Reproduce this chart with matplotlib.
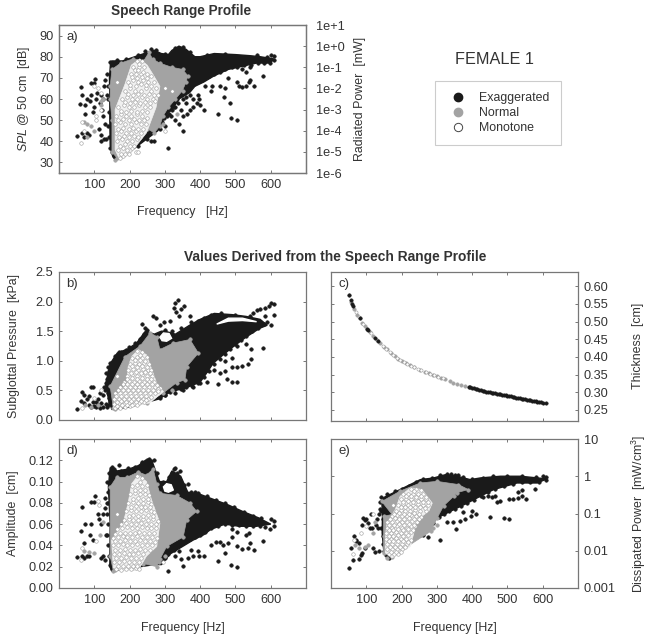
import matplotlib
matplotlib.use('Agg')
import matplotlib.pyplot as plt
from matplotlib.lines import Line2D

plt.rcParams['font.family'] = ['Liberation Sans', 'DejaVu Sans']
plt.rcParams['mathtext.fontset'] = 'custom'
plt.rcParams['mathtext.rm'] = 'Liberation Sans'
plt.rcParams['mathtext.it'] = 'Liberation Sans:italic'

## Data: dense masses as outlines, loose points one by one
xticks = [100, 200, 300, 400, 500, 600]

# panel a: frequency, SPL
a_black_area = [(146, 77), (150, 78), (180, 78), (215, 80), (250, 82), (270, 83), (290, 81.5), (310, 81),
                (320, 83), (340, 85), (360, 83.5), (385, 80), (400, 80), (440, 81.5), (500, 81), (540, 80.5),
                (570, 80), (608, 79), (600, 77), (560, 77), (520, 75.5), (480, 74), (440, 71), (410, 68),
                (385, 66), (370, 63), (340, 60), (320, 55), (300, 52), (290, 48), (280, 45), (240, 40),
                (200, 35), (160, 31), (152, 33), (145, 38), (144, 50), (144, 60), (143, 70)]
a_gray_area = [(145, 66), (150, 74), (175, 77), (210, 79), (240, 78), (255, 82), (265, 79), (285, 77), (320, 75),
               (350, 74), (365, 71), (360, 68), (350, 64), (330, 60), (310, 56), (295, 52), (285, 47), (270, 44),
               (250, 46), (230, 42), (200, 36), (165, 32), (150, 35), (150, 50), (145, 60)]
a_white_area = [(229, 79), (250, 76), (265, 72), (286, 66), (275, 56), (248, 44), (210, 36), (173, 31), (159, 36),
                (159, 55), (187, 67), (205, 76)]
a_edge = [(300, 53), (310, 55), (322, 58), (333, 60), (345, 62), (357, 64), (370, 66), (382, 67), (395, 69), (410, 70),
          (425, 71), (440, 72), (455, 73), (470, 74), (490, 75), (505, 75), (525, 76), (545, 76), (565, 77), (580, 77),
          (145, 77.5), (165, 78.5), (190, 79), (225, 81), (245, 82.5), (262, 83.5), (275, 83), (300, 81.5), (330, 84),
          (350, 84.5), (370, 82), (420, 81), (470, 81.5), (560, 81), (590, 80), (138, 66), (140, 60), (143, 54),
          (140, 47), (143, 42), (145, 37), (150, 35), (155, 33), (285, 46), (292, 49), (298, 51), (305, 52), (312, 53),
          (320, 55), (328, 56), (338, 58), (350, 60), (360, 61), (372, 62)]
a_exag = [(52, 42.5), (60, 57.5), (62, 65.5), (64, 62), (72, 42), (74, 57), (78, 60), (80, 44), (85, 43), (88, 59),
          (90, 62), (92, 67.5), (98, 67.5), (98, 56), (103, 69.5), (108, 63), (112, 46), (118, 62), (118, 43),
          (125, 60), (128, 66), (130, 69), (125, 52), (130, 48), (132, 41), (128, 41), (120, 40), (135, 72),
          (135, 62), (65, 44), (75, 53), (95, 54), (105, 60), (115, 58), (122, 55),
          (310, 37), (352, 45), (262, 40), (270, 40), (248, 41), (235, 44), (225, 38), (300, 47), (318, 52),
          (330, 50), (340, 48), (350, 52), (362, 53), (372, 55), (380, 56), (390, 58), (398, 60), (410, 55),
          (400, 57), (380, 60), (450, 53), (487, 51), (505, 50), (486, 58), (468, 61), (470, 65), (430, 64),
          (435, 66), (455, 66), (478, 70), (505, 68), (510, 66), (520, 65.5), (530, 66), (538, 68), (542, 69),
          (552, 66), (578, 71), (530, 73), (540, 75), (520, 74), (325, 56), (305, 55), (345, 55), (360, 58),
          (395, 62), (415, 66), (600, 81), (608, 80.5), (610, 78.5), (598, 77), (585, 78)]
a_norm = [(70, 49), (78, 48), (90, 47), (100, 45), (80, 42), (118, 59), (125, 60), (160, 31), (275, 49), (295, 48),
          (335, 53), (120, 57)]
a_mono = [(222, 78), (236, 78), (211, 75), (226, 75), (241, 75), (203, 72), (217, 72), (232, 72), (248, 72),
          (262, 71), (195, 68), (210, 69), (224, 68), (239, 69), (253, 68), (268, 68), (188, 64), (202, 65),
          (216, 64), (231, 64), (246, 65), (260, 64), (276, 65), (178, 60), (192, 61), (207, 60), (222, 60),
          (236, 61), (250, 60), (266, 60), (280, 62), (168, 56), (183, 57), (198, 56), (213, 56), (228, 57),
          (243, 56), (258, 56), (162, 52), (176, 53), (190, 52), (205, 52), (220, 53), (235, 52), (250, 51),
          (160, 48), (174, 49), (188, 48), (203, 48), (218, 49), (232, 48), (246, 48), (162, 44), (176, 45),
          (190, 44), (204, 44), (218, 45), (232, 44), (165, 40), (178, 41), (192, 40), (206, 40), (220, 41),
          (168, 36), (180, 37), (193, 36), (206, 37), (172, 32), (180, 33),
          (62, 39), (65, 49), (72, 45), (100, 66), (110, 65), (118, 63), (105, 50), (218, 35), (225, 35),
          (300, 45), (105, 52), (120, 55), (165, 68), (300, 65), (320, 64),
          (228, 76.5), (214, 73.5), (224, 73.5), (238, 73), (208, 70.5), (222, 70), (236, 70.5), (250, 70), (202, 66.5),
          (217, 66), (232, 67), (246, 66.5), (262, 66), (195, 62.5), (210, 62), (224, 62.5), (240, 62), (254, 62.5),
          (270, 62), (186, 58.5), (200, 58), (215, 58.5), (230, 58), (245, 58.5), (258, 58), (272, 59), (175, 54.5),
          (190, 54), (205, 54.5), (220, 54), (236, 54.5), (250, 54), (168, 50), (182, 50.5), (197, 50), (212, 50.5),
          (226, 50), (240, 50), (168, 46), (182, 46.5), (197, 46), (211, 46.5), (225, 46), (239, 46), (170, 42),
          (184, 42.5), (198, 42), (212, 42.5), (225, 42), (172, 38), (186, 38.5), (200, 38), (213, 38), (176, 34),
          (186, 34), (198, 34)]

# panel b: frequency, subglottal pressure
b_black_area = [(132, 0.6), (145, 0.95), (165, 1.13), (195, 1.2), (220, 1.3), (245, 1.5), (270, 1.45),
                (290, 1.5), (300, 1.5), (330, 1.45), (370, 1.6), (400, 1.7), (440, 1.8), (490, 1.78), (530, 1.75),
                (570, 1.7), (590, 1.6), (569, 1.55), (530, 1.4), (494, 1.24), (465, 1.1), (437, .96), (418, .79),
                (400, .64), (371, .57), (350, .52), (324, .5), (300, .42), (286, .36), (250, 0.3), (200, 0.22),
                (150, 0.18), (142, 0.3)]
b_gray_area = [(145, 0.57), (187, 1.07), (230, 1.25), (258, 1.47), (277, 1.41), (286, 1.19), (324, 1.3), (371, 1.36),
               (395, 1.13), (362, 0.9), (357, 0.68), (333, 0.63), (296, 0.46), (248, 0.29), (154, 0.2)]
b_white_area = [(225, 1.19), (248, 1.1), (277, 0.62), (296, 0.48), (258, 0.29), (210, 0.23), (154, 0.2), (159, 0.4),
                (192, 0.62), (196, 0.9), (206, 1.07)]
b_hole = [(286, 1.4), (296, 1.47), (312, 1.46), (319, 1.38), (305, 1.33), (292, 1.34)]
b_sliver = [(447, 1.62), (480, 1.72), (520, 1.72), (560, 1.66), (520, 1.68), (480, 1.67)]
b_edge = [(286, .38), (300, .42), (315, .47), (330, .52), (345, .52), (360, .55), (378, .58), (395, .62), (410, .72),
          (425, .82), (440, .95), (455, 1.03), (470, 1.12), (485, 1.2), (500, 1.28), (515, 1.35), (530, 1.42),
          (548, 1.5), (565, 1.56), (580, 1.62), (145, .97), (158, 1.08), (175, 1.15), (198, 1.23), (215, 1.3),
          (230, 1.37), (240, 1.45), (250, 1.52), (300, 1.52), (320, 1.5), (345, 1.55), (375, 1.65), (410, 1.73),
          (430, 1.78), (460, 1.8), (500, 1.78), (540, 1.76), (132, .62), (137, .7), (142, .82), (128, .56), (138, .45),
          (142, .38), (145, .3), (140, .25), (135, .22), (120, .28), (110, .26), (100, .24), (92, .22)]
b_exag = [(52, .18), (62, .32), (64, .48), (70, .42), (72, .28), (80, .35), (85, .4), (90, .55), (97, .56), (85, .25),
          (95, .3), (105, .3), (110, .35), (115, .45), (125, .42), (130, .5), (105, .22), (115, .2), (125, .22),
          (132, .27), (132, .8), (138, .9), (150, .97), (170, 1.15), (190, 1.18), (235, 1.62), (243, 1.55),
          (265, 1.75), (275, 1.72), (285, 1.6), (298, 1.65), (315, 1.68), (325, 1.9), (332, 1.83), (338, 2.02),
          (330, 1.98), (345, 1.87), (355, 1.92), (340, 1.75), (370, 1.75), (395, 1.68), (405, 1.65), (450, .6),
          (475, .7), (490, .65), (505, .65), (470, .82), (455, .8), (490, .9), (505, .9), (520, .92), (535, .95),
          (545, 1.03), (578, 1.22), (545, 1.2), (530, 1.28), (505, 1.25), (420, .65), (400, .62), (380, .55),
          (350, .5), (330, .45), (300, .42), (420, .85), (440, .85), (470, 1.0), (490, 1.05), (585, 1.9),
          (595, 1.92), (600, 1.97), (608, 1.96), (610, 1.78), (600, 1.6), (590, 1.65), (585, 1.75), (560, 1.85),
          (570, 1.88), (550, 1.8)]
b_norm = [(75, .25), (90, .22), (110, .25), (160, .18), (300, .62), (320, .5)]
b_mono = [(222, 1.17), (236, 1.15), (208, 1.05), (222, 1.07), (236, 1.05), (250, 1.06), (200, .95), (214, .97),
          (228, .95), (242, .96), (255, .95), (196, .85), (210, .86), (224, .85), (238, .86), (252, .85), (262, .84),
          (193, .75), (207, .76), (221, .75), (235, .76), (249, .75), (263, .74), (185, .65), (199, .66), (213, .65),
          (227, .66), (241, .65), (255, .66), (270, .64), (172, .55), (186, .56), (200, .55), (214, .56), (228, .55),
          (242, .56), (256, .55), (272, .56), (286, .54), (160, .45), (174, .46), (188, .45), (202, .46), (216, .45),
          (230, .46), (244, .45), (258, .46), (272, .45), (155, .36), (169, .35), (183, .36), (197, .35), (211, .36),
          (225, .35), (239, .36), (253, .35), (156, .27), (170, .28), (184, .27), (198, .28), (212, .27), (226, .28),
          (240, .3), (158, .21), (172, .21), (186, .22), (200, .23), (65, .2), (100, .38), (118, .5), (165, .75),
          (280, .52),
          (229, 1.1), (215, 1.01), (229, 1.01), (243, 1.0), (207, .91), (221, .9), (235, .91), (249, .9), (203, .8),
          (217, .81), (231, .8), (245, .81), (258, .8), (192, .7), (206, .71), (220, .7), (234, .71), (248, .7),
          (262, .7), (180, .6), (194, .61), (208, .6), (222, .61), (236, .6), (250, .61), (264, .6), (278, .59),
          (167, .5), (181, .51), (195, .5), (209, .51), (223, .5), (237, .5), (251, .51), (265, .5), (280, .49),
          (162, .4), (176, .41), (190, .4), (204, .41), (218, .4), (232, .41), (246, .4), (260, .39), (163, .31),
          (177, .32), (191, .31), (205, .32), (219, .31), (233, .32), (247, .33), (165, .24), (179, .25), (193, .25),
          (207, .25), (221, .26)]

# panel c: frequency, thickness
c_norm = [(52, .575), (58, .555), (66, .535), (74, .518), (81, .509), (88, .497), (95, .487), (102, .48), (110, .47),
          (118, .46), (130, .448), (140, .438), (150, .428), (158, .421), (170, .411), (180, .403), (190, .395),
          (200, .388), (212, .382), (224, .376), (236, .37), (253, .363), (265, .358), (278, .353), (290, .349),
          (300, .346), (312, .341), (324, .336), (336, .331), (347, .327), (358, .324), (369, .321), (380, .318),
          (390, .316)]
c_exag = [(52, .575), (56, .56), (60, .55), (62, .545), (81, .509), (102, .48), (106, .475), (125, .453), (134, .444),
          (390, .316), (395, .314), (400, .313), (405, .311), (410, .31), (415, .308), (420, .307), (425, .305),
          (430, .304), (435, .303), (440, .302), (445, .301), (450, .3), (455, .299), (460, .298), (465, .297),
          (470, .296), (475, .295), (480, .294), (485, .293), (490, .292), (495, .291), (500, .29), (505, .289),
          (510, .288), (515, .287), (520, .286), (525, .285), (530, .284), (535, .283), (540, .282), (545, .281),
          (550, .28), (555, .279), (560, .278), (565, .277), (570, .276), (575, .275), (580, .274), (585, .273),
          (590, .272), (595, .271), (600, .27), (608, .269)]
c_mono = [(70, .527), (78, .513), (92, .492), (112, .468), (146, .432), (156, .423), (166, .414), (176, .406),
          (186, .398), (196, .391), (206, .385), (216, .38), (226, .375), (236, .37), (246, .366), (256, .362),
          (268, .357), (280, .352), (292, .348), (304, .344), (316, .339)]

# panel d: frequency, amplitude
d_black_area = [(140, .095), (145, .113), (165, .11), (200, .112), (225, .115), (245, .12), (265, .118), (285, .1),
                (305, .1), (320, .11), (345, .105), (365, .09), (400, .088), (440, .083), (480, .078), (520, .072),
                (565, .066), (600, .06), (560, .058), (510, .058), (470, .06), (430, .055), (410, .05), (380, .045),
                (345, .038), (315, .032), (290, .022), (270, .022), (150, .016), (144, .02), (145, .06)]
d_gray_area = [(145, .095), (163, .104), (192, .104), (225, .109), (248, .106), (267, .112), (277, .098), (286, .089),
               (333, .087), (371, .08), (390, .072), (362, .064), (352, .048), (305, .039), (286, .027), (277, .02),
               (239, .023), (210, .019), (154, .016), (145, .03)]
d_white_area = [(225, .106), (248, .1), (262, .083), (286, .061), (277, .039), (248, .03), (225, .017), (177, .016),
                (154, .019), (149, .045), (182, .061), (196, .08), (206, .098)]
d_hole = [(296, .095), (305, .098), (318, .097), (324, .092), (310, .09), (300, .091)]
d_edge = [(290, .024), (300, .028), (310, .032), (325, .036), (340, .04), (355, .043), (370, .046), (385, .048), (400, .05),
          (415, .053), (430, .056), (450, .058), (470, .06), (490, .059), (510, .059), (530, .058), (550, .058), (570, .058),
          (143, .108), (155, .112), (175, .11), (195, .113), (215, .114), (235, .118), (250, .12), (262, .119), (278, .108),
          (295, .1), (312, .104), (325, .112), (335, .108), (355, .097), (375, .09), (395, .089), (420, .086), (445, .083),
          (470, .08), (495, .076), (525, .071), (550, .068), (136, .1), (138, .09), (140, .08), (137, .07), (140, .06),
          (137, .05), (140, .04), (142, .03), (145, .022), (150, .018)]
d_exag = [(52, .029), (62, .054), (64, .076), (66, .03), (72, .042), (72, .028), (80, .03), (75, .06), (85, .03),
          (88, .05), (90, .06), (92, .081), (98, .081), (103, .086), (95, .045), (110, .07), (113, .065), (120, .06),
          (125, .07), (125, .03), (130, .026), (118, .028), (130, .085), (135, .08), (130, .075), (132, .05),
          (310, .016), (352, .021), (330, .03), (345, .027), (365, .028), (380, .03), (398, .03), (410, .03),
          (395, .035), (375, .036), (340, .035), (450, .025), (487, .022), (505, .02), (470, .033), (465, .04),
          (430, .04), (445, .043), (455, .043), (478, .042), (490, .048), (505, .039), (520, .037), (535, .038),
          (542, .042), (552, .036), (578, .044), (530, .05), (538, .052), (490, .055), (505, .053), (600, .065),
          (608, .063), (610, .058), (598, .055), (585, .057), (572, .066), (150, .114), (170, .116), (235, .117),
          (255, .121), (268, .12), (330, .113), (342, .11), (320, .108), (365, .098), (385, .09)]
d_norm = [(70, .035), (85, .034), (100, .033), (115, .05), (125, .062), (160, .017), (282, .024), (300, .03)]
d_mono = [(222, .105), (235, .103), (208, .096), (222, .097), (236, .096), (248, .097), (202, .088), (216, .089),
          (230, .088), (244, .088), (254, .087), (196, .08), (210, .081), (224, .08), (238, .08), (252, .081),
          (262, .079), (190, .072), (204, .073), (218, .072), (232, .072), (246, .073), (260, .072), (270, .071),
          (183, .064), (197, .065), (211, .064), (225, .064), (239, .065), (253, .064), (267, .065), (280, .063),
          (164, .055), (178, .056), (192, .057), (206, .056), (220, .056), (234, .057), (248, .056), (262, .056),
          (276, .056), (152, .047), (166, .048), (180, .049), (194, .048), (208, .048), (222, .049), (236, .048),
          (250, .048), (264, .048), (278, .047), (152, .04), (166, .04), (180, .041), (194, .04), (208, .04),
          (222, .041), (236, .04), (250, .04), (264, .04), (155, .032), (169, .032), (183, .033), (197, .032),
          (211, .032), (225, .033), (239, .032), (157, .024), (171, .024), (185, .025), (199, .024), (213, .024),
          (227, .024), (162, .018), (176, .017), (190, .018), (204, .018), (218, .019),
          (62, .026), (66, .038), (105, .044), (112, .078), (110, .082), (228, .018), (295, .024), (165, .07),
          (229, .1), (215, .092), (229, .092), (243, .092), (209, .084), (223, .085), (237, .084), (251, .084), (203, .076),
          (217, .077), (231, .076), (245, .076), (258, .076), (197, .068), (211, .069), (225, .068), (239, .068), (253, .069),
          (266, .068), (176, .06), (190, .061), (204, .06), (218, .06), (232, .061), (246, .06), (260, .06), (274, .06),
          (158, .051), (172, .052), (186, .052), (200, .052), (214, .052), (228, .053), (242, .052), (256, .052), (270, .052),
          (159, .044), (173, .044), (187, .045), (201, .044), (215, .044), (229, .045), (243, .044), (257, .044), (271, .043),
          (160, .036), (174, .036), (188, .037), (202, .036), (216, .036), (230, .037), (244, .036), (258, .036), (162, .028),
          (176, .028), (190, .029), (204, .028), (218, .028), (232, .028), (168, .021), (182, .021), (196, .021), (210, .021),
          (222, .021)]

# panel e: frequency, dissipated power
e_black_area = [(144, .2), (150, .27), (196, .44), (253, .81), (291, .9), (324, 1.1), (357, 1.0), (395, .81), (423, .9),
                (480, 1.0), (537, 1.0), (612, .85), (584, .66), (527, .66), (461, .44), (423, .29), (386, .19),
                (348, .127), (301, .076), (272, .037), (168, .0064), (150, .009), (145, .03), (146, .1)]
e_gray_area = [(144, .21), (196, .4), (253, .66), (300, .73), (361, .6), (389, .44), (356, .36), (348, .29), (319, .16),
               (301, .076), (282, .033), (173, .007), (149, .0088), (149, .025), (149, .084), (173, .094)]
e_white_area = [(225, .49), (258, .44), (287, .19), (277, .115), (244, .068), (225, .013), (173, .0064), (154, .0088),
                (154, .025), (159, .056), (182, .127), (196, .29)]
e_edge = [(275, .04), (290, .055), (305, .08), (320, .1), (335, .115), (350, .13), (368, .16), (385, .19), (405, .23),
          (425, .3), (445, .38), (465, .46), (490, .55), (515, .62), (540, .68), (565, .68), (590, .68), (142, .27),
          (160, .33), (180, .4), (200, .46), (220, .55), (240, .7), (260, .82), (285, .92), (310, 1.05), (330, 1.12),
          (350, 1.05), (375, .95), (400, .85), (430, .92), (460, 1.0), (500, 1.02), (540, 1.02), (580, .98), (140, .2),
          (143, .12), (146, .07), (143, .04), (146, .025), (148, .015), (150, .01), (155, .0075), (165, .0065)]
e_exag = [(52, .0035), (62, .0055), (58, .012), (64, .025), (70, .02), (72, .018), (78, .006), (85, .0075), (88, .0085),
          (95, .012), (80, .016), (88, .05), (95, .065), (105, .055), (110, .04), (100, .07), (92, .075), (112, .1),
          (115, .04), (130, .07), (132, .04), (128, .05), (120, .012), (135, .01), (125, .009), (135, .1), (138, .13),
          (308, .019), (262, .026), (275, .024), (252, .027), (355, .039), (330, .058), (345, .06), (365, .062),
          (380, .07), (398, .085), (410, .1), (400, .12), (375, .11), (450, .08), (490, .075), (505, .07), (470, .2),
          (465, .3), (430, .27), (445, .3), (455, .28), (478, .22), (505, .24), (515, .24), (530, .26), (540, .3),
          (552, .25), (578, .45), (530, .37), (540, .42), (600, 1.0), (608, .95), (610, .8), (580, .8), (360, 1.1),
          (340, 1.15)]
e_norm = [(68, .014), (80, .012), (95, .013), (105, .014), (118, .03), (125, .06), (160, .0065), (290, .04), (300, .05)]
e_mono = [(228, .46), (242, .45), (255, .42), (205, .33), (219, .34), (233, .33), (247, .33), (262, .34), (198, .24),
          (212, .25), (226, .24), (240, .24), (254, .25), (268, .24), (190, .17), (204, .18), (218, .17), (232, .17),
          (246, .18), (260, .17), (274, .17), (183, .12), (197, .125), (211, .12), (225, .12), (239, .125), (253, .12),
          (268, .12), (172, .085), (186, .09), (200, .085), (214, .085), (228, .09), (242, .085), (256, .08), (160, .06),
          (174, .06), (188, .063), (202, .06), (216, .06), (230, .063), (244, .06), (158, .042), (172, .042), (186, .045),
          (200, .042), (214, .042), (228, .045), (238, .045), (156, .03), (170, .03), (184, .032), (198, .03), (212, .03),
          (226, .032), (156, .021), (170, .021), (184, .022), (198, .021), (212, .021), (226, .02), (158, .015), (172, .015),
          (186, .015), (200, .015), (214, .015), (160, .011), (174, .011), (188, .011), (202, .011), (164, .008),
          (178, .008), (190, .008), (62, .008), (66, .02), (100, .045), (85, .03), (120, .1), (175, .17),
          (235, .39), (212, .29), (226, .29), (240, .28), (254, .29), (268, .28), (205, .205), (219, .21), (233, .205),
          (247, .21), (261, .205), (275, .2), (197, .145), (211, .15), (225, .145), (239, .15), (253, .145), (267, .14),
          (179, .1), (193, .105), (207, .1), (221, .1), (235, .105), (249, .1), (166, .072), (180, .075), (194, .072),
          (208, .072), (222, .075), (236, .072), (250, .07), (165, .05), (179, .05), (193, .052), (207, .05), (221, .052),
          (235, .05), (163, .036), (177, .036), (191, .038), (205, .036), (219, .038), (233, .036), (163, .025), (177, .025),
          (191, .026), (205, .025), (219, .026), (163, .018), (177, .018), (191, .018), (205, .018), (219, .017), (167, .013),
          (181, .013), (195, .013), (209, .013), (171, .0095), (185, .0095), (197, .0095)]

black = '#1a1a1a'
gray = '#a3a3a3'
spine = '#777777'
text_c = '#333333'
label_fs = 8.9
W, H = 649, 640

fig = plt.figure(figsize=(W / 100, H / 100), dpi=100)


def make_axes(left, top, right, bottom, ylim, yticks, ylabels=None, yside='left', xlabels=True):
    ax = fig.add_axes([left / W, 1 - bottom / H, (right - left) / W, (bottom - top) / H])
    ax.set_xlim(0, 700)
    ax.set_ylim(*ylim)
    ax.set_xticks(xticks)
    ax.set_yticks(yticks)
    if ylabels:
        ax.set_yticklabels(ylabels)
    ax.tick_params(direction='in', top=True, right=True, length=2.5, width=0.7, color=spine, labelsize=9.2,
                   labelcolor=text_c, pad=4)
    if yside == 'right':
        ax.tick_params(labelleft=False, labelright=True)
    if not xlabels:
        ax.tick_params(labelbottom=False)
    for s in ax.spines.values():
        s.set_color(spine)
        s.set_linewidth(0.9)
    return ax


def pts(ax, data, face, edge, size=6.5, lw=0.4, z=3):
    ax.scatter([p[0] for p in data], [p[1] for p in data], s=size, c=face, edgecolors=edge, linewidths=lw, zorder=z)


def cloud(ax, black_area, gray_area, white_area, edge, exag, norm, mono):
    ax.fill([p[0] for p in black_area], [p[1] for p in black_area], color=black, lw=1.0, zorder=2)
    pts(ax, edge, black, black, z=2)
    pts(ax, exag, black, black, z=2)
    ax.fill([p[0] for p in gray_area], [p[1] for p in gray_area], color=gray, lw=0.5, zorder=3)
    pts(ax, gray_area, gray, gray, z=3)
    pts(ax, norm, gray, gray, z=3)
    ax.fill([p[0] for p in white_area], [p[1] for p in white_area], color='#f0f0f0', lw=0.5, zorder=4)
    pts(ax, mono, 'white', '#9a9a9a', z=5)


# a)
ax_a = make_axes(59, 25, 306, 173, (25, 95), [30, 40, 50, 60, 70, 80, 90])
cloud(ax_a, a_black_area, a_gray_area, a_white_area, a_edge, a_exag, a_norm, a_mono)
ax_a.tick_params(right=False)
ax_a.set_ylabel(r'$\mathit{SPL}$ @ 50 cm  [dB]', fontsize=label_fs, color=text_c, labelpad=5)
ax_a.set_xlabel('Frequency   [Hz]', fontsize=label_fs, color=text_c, labelpad=11)
ax_a2 = ax_a.twinx()
ax_a2.set_yscale('log')
ax_a2.set_ylim(1e-6, 1e1)
ax_a2.set_yticks([1e1, 1e0, 1e-1, 1e-2, 1e-3, 1e-4, 1e-5, 1e-6])
ax_a2.set_yticklabels(['1e+1', '1e+0', '1e-1', '1e-2', '1e-3', '1e-4', '1e-5', '1e-6'])
ax_a2.minorticks_off()
ax_a2.tick_params(direction='in', length=2.5, width=0.7, color=spine, labelsize=9.2, labelcolor=text_c, pad=7)
for s in ax_a2.spines.values():
    s.set_color(spine)
    s.set_linewidth(0.9)
ax_a2.set_ylabel('Radiated Power  [mW]', fontsize=label_fs, color=text_c, labelpad=7)

# b)
ax_b = make_axes(59, 272, 306, 420, (0, 2.5), [0, 0.5, 1, 1.5, 2, 2.5],
                 ['0.0', '0.5', '1.0', '1.5', '2.0', '2.5'], xlabels=False)
cloud(ax_b, b_black_area, b_gray_area, b_white_area, b_edge, b_exag, b_norm, b_mono)
ax_b.fill([p[0] for p in b_hole], [p[1] for p in b_hole], color='white', zorder=4)
ax_b.fill([p[0] for p in b_sliver], [p[1] for p in b_sliver], color='white', zorder=4)
ax_b.set_ylabel('Subglottal Pressure  [kPa]', fontsize=label_fs, color=text_c, labelpad=11)

# c)
ax_c = make_axes(331, 272, 578, 420.5, (0.22, 0.64), [0.25, 0.3, 0.35, 0.4, 0.45, 0.5, 0.55, 0.6],
                 ['0.25', '0.30', '0.35', '0.40', '0.45', '0.50', '0.55', '0.60'], yside='right', xlabels=False)
pts(ax_c, c_norm, gray, gray, size=6)
pts(ax_c, c_mono, 'white', '#9a9a9a', size=5, z=4)
pts(ax_c, c_exag, black, black, size=6, z=5)
ax_c.yaxis.set_label_position('right')
ax_c.set_ylabel('Thickness  [cm]', fontsize=label_fs, color=text_c, labelpad=17)

# d)
ax_d = make_axes(59, 439, 306, 588, (0, 0.14), [0, 0.02, 0.04, 0.06, 0.08, 0.1, 0.12],
                 ['0.00', '0.02', '0.04', '0.06', '0.08', '0.10', '0.12'])
cloud(ax_d, d_black_area, d_gray_area, d_white_area, d_edge, d_exag, d_norm, d_mono)
ax_d.fill([p[0] for p in d_hole], [p[1] for p in d_hole], color='white', zorder=4)
ax_d.set_ylabel('Amplitude  [cm]', fontsize=label_fs, color=text_c, labelpad=7)
ax_d.set_xlabel('Frequency [Hz]', fontsize=label_fs, color=text_c, labelpad=12)

# e)
ax_e = make_axes(331, 439, 578, 588, (0.001, 10), [0.001, 0.01, 0.1, 1, 10],
                 None, yside='right')
ax_e.set_yscale('log')
ax_e.set_ylim(0.001, 10)
ax_e.set_yticks([0.001, 0.01, 0.1, 1, 10])
ax_e.set_yticklabels(['0.001', '0.01', '0.1', '1', '10'])
ax_e.minorticks_off()
cloud(ax_e, e_black_area, e_gray_area, e_white_area, e_edge, e_exag, e_norm, e_mono)
ax_e.yaxis.set_label_position('right')
ax_e.set_ylabel('Dissipated Power  [mW/cm$^3$]', fontsize=label_fs, color=text_c, labelpad=10)
ax_e.set_xlabel('Frequency [Hz]', fontsize=label_fs, color=text_c, labelpad=12)

for ax, tag in [(ax_a, 'a)'), (ax_b, 'b)'), (ax_c, 'c)'), (ax_d, 'd)'), (ax_e, 'e)')]:
    ax.text(0.03, 0.92, tag, transform=ax.transAxes, fontsize=9.5, color=text_c, va='center', zorder=6)

fig.text(181 / W, 1 - 11 / H, 'Speech Range Profile', fontsize=9.8, fontweight='bold', color=text_c,
         ha='center', va='center')
fig.text(335 / W, 1 - 257 / H, 'Values Derived from the Speech Range Profile', fontsize=9.9, fontweight='bold',
         color=text_c, ha='center', va='center')
fig.text(494 / W, 1 - 59 / H, 'FEMALE 1', fontsize=11.7, color=text_c, ha='center', va='center')

handles = [Line2D([], [], ls='', marker='o', ms=6, mfc=black, mec=black),
           Line2D([], [], ls='', marker='o', ms=6, mfc=gray, mec=gray),
           Line2D([], [], ls='', marker='o', ms=6, mfc='white', mec='#444444', mew=0.7)]
leg = fig.legend(handles, ['Exaggerated', 'Normal', 'Monotone'], loc='upper left',
                 bbox_to_anchor=(435 / W, 1 - 81 / H), fontsize=8.9, fancybox=False, edgecolor='#cccccc',
                 labelcolor=text_c, framealpha=1, borderpad=0.9, labelspacing=0.25, handletextpad=0.7,
                 borderaxespad=0)
leg.get_frame().set_linewidth(0.8)

fig.savefig('out.png', dpi=100)
